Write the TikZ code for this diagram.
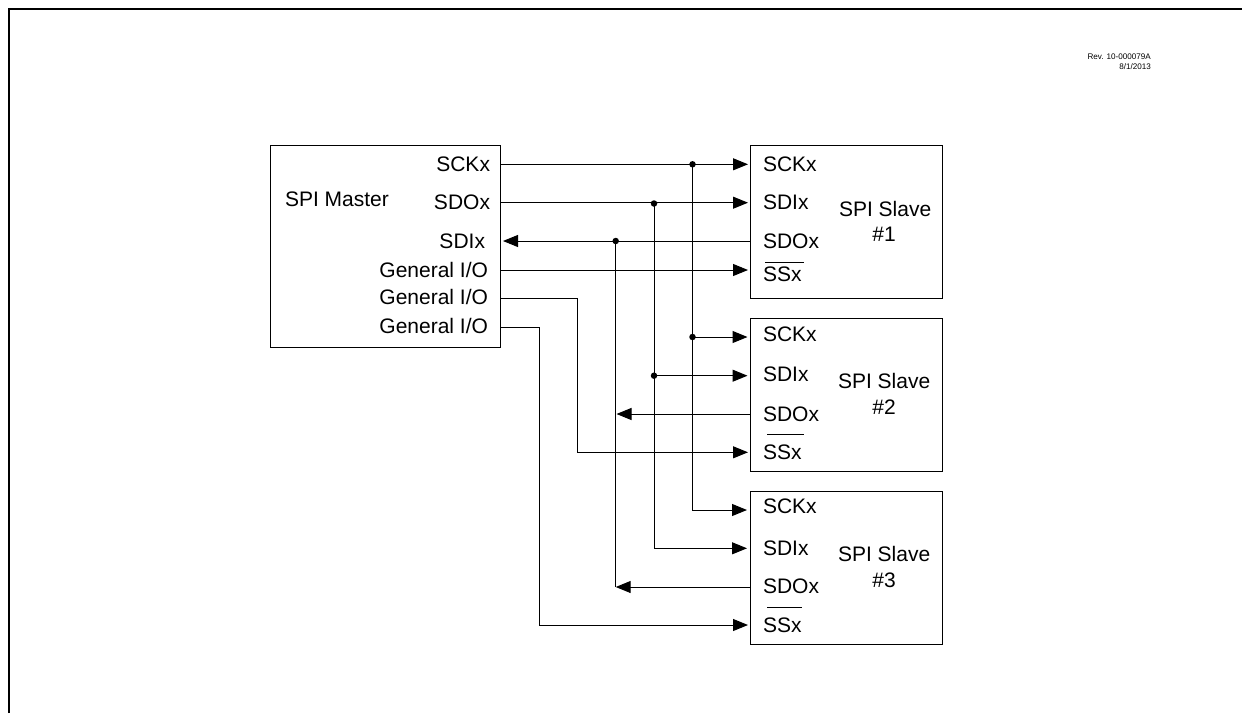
\documentclass[tikz,border=0pt]{standalone}
\usepackage{fontspec}
\setmainfont{Liberation Sans}
\usetikzlibrary{arrows.meta}
\tikzset{
  x=1pt,y=-1pt,
  blockbox/.style={draw=black,line width=1pt,inner sep=0pt,outer sep=0pt,rectangle,anchor=north west},
  lbl/.style={font=\fontsize{21}{21}\selectfont,inner sep=0pt,outer sep=0pt,text=black},
  lblw/.style={lbl,anchor=base west},
  lble/.style={lbl,anchor=base east},
  lblc/.style={lbl,anchor=base},
  rev/.style={font=\fontsize{8.1}{8.1}\selectfont,inner sep=0pt,anchor=base east,text=black},
  wire/.style={draw=black,line width=1pt},
  sig/.style={wire,-{Triangle[length=15pt,width=12pt]}},
  dotj/.style={circle,fill=black,inner sep=0pt,minimum size=6.5pt},
  ovr/.style={draw=black,line width=1pt},
}
\begin{document}
\begin{tikzpicture}
\useasboundingbox (0,0) rectangle (1242,713);
% outer frame
\coordinate (fbl) at (9,713); \coordinate (ftl) at (9,9); \coordinate (ftr) at (1242,9);
\draw[black,line width=2.2pt,line join=miter] (fbl) -- (ftl) -- (ftr);
\node[rev] (rev1) at (1151,59.5) {Rev. 10-000079A};
\node[rev] (rev2) at (1151,69) {8/1/2013};
% blocks
\node[blockbox,minimum width=230pt,minimum height=202pt] (master) at (270,145) {};
\node[blockbox,minimum width=192pt,minimum height=153pt] (s1) at (750,145) {};
\node[blockbox,minimum width=192pt,minimum height=153pt] (s2) at (750,318) {};
\node[blockbox,minimum width=192pt,minimum height=153pt] (s3) at (750,491) {};
% master labels
\node[lblw] (mname) at (285,206) {SPI Master};
\node[lble] (msck) at (490,171) {SCKx};
\node[lble] (msdo) at (490,209) {SDOx};
\node[lble] (msdi) at (485,248) {SDIx};
\node[lble] (mg1) at (488,277) {General I/O};
\node[lble] (mg2) at (488,304.5) {General I/O};
\node[lble] (mg3) at (488,333) {General I/O};
% slave 1
\node[lblw] (a1) at (763,171) {SCKx};
\node[lblw] (b1) at (763,209) {SDIx};
\node[lblw] (c1) at (763,248) {SDOx};
\node[lblw] (d1) at (763,281) {SSx};
\node[lblw] (n1) at (839,216) {SPI Slave};
\node[lblc] (h1) at (884,241) {\#1};
\coordinate (oa1) at (765,262.5); \coordinate (ob1) at (804,262.5);
\draw[ovr] (oa1) -- (ob1);
% slave 2
\node[lblw] (a2) at (763,341.5) {SCKx};
\node[lblw] (b2) at (763,381.7) {SDIx};
\node[lblw] (c2) at (763,421) {SDOx};
\node[lblw] (d2) at (763,459.3) {SSx};
\node[lblw] (n2) at (838,388) {SPI Slave};
\node[lblc] (h2) at (884,414) {\#2};
\coordinate (oa2) at (767,434.7); \coordinate (ob2) at (804,434.7);
\draw[ovr] (oa2) -- (ob2);
% slave 3
\node[lblw] (a3) at (763,513.5) {SCKx};
\node[lblw] (b3) at (763,555) {SDIx};
\node[lblw] (c3) at (763,593) {SDOx};
\node[lblw] (d3) at (763,632) {SSx};
\node[lblw] (n3) at (838,561) {SPI Slave};
\node[lblc] (h3) at (884,587) {\#3};
\coordinate (oa3) at (767,607.7); \coordinate (ob3) at (802,607.7);
\draw[ovr] (oa3) -- (ob3);
% ports
\coordinate (pm1) at (500,164.3); \coordinate (pm2) at (500,202.7);
\coordinate (pm3) at (503,241); \coordinate (pm4) at (500,270);
\coordinate (pm5) at (500,298.7); \coordinate (pm6) at (500,327.5);
\coordinate (p1a) at (748,164.3); \coordinate (p1b) at (748,202.7);
\coordinate (p1c) at (750,241); \coordinate (p1d) at (748,270);
\coordinate (p2a) at (747.5,337); \coordinate (p2b) at (747.5,375.7);
\coordinate (p2c) at (750,414); \coordinate (p2d) at (748,452.3);
\coordinate (p3a) at (747,510); \coordinate (p3b) at (747,548.3);
\coordinate (p3c) at (750,587); \coordinate (p3d) at (748,625);
% junctions
\node[dotj] (j1) at (692.5,164.3) {};
\node[dotj] (j2) at (654,203.5) {};
\node[dotj] (j3) at (615.7,241) {};
\node[dotj] (j4) at (692.5,337) {};
\node[dotj] (j5) at (654,375.7) {};
\coordinate (t2) at (616.5,414);
\coordinate (t3) at (615.7,587);
\coordinate (k3) at (692.5,510); \coordinate (k4) at (654,548.3);
\coordinate (g2) at (577.3,298.7); \coordinate (g2b) at (577.3,452.3);
\coordinate (g3) at (539,327.5); \coordinate (g3b) at (539,625);
% connectors
\draw[sig] (pm1) -- (p1a);
\draw[sig] (pm2) -- (p1b);
\draw[sig] (p1c) -- (pm3);
\draw[sig] (pm4) -- (p1d);
\draw[sig] (pm5) -- (g2) -- (g2b) -- (p2d);
\draw[sig] (pm6) -- (g3) -- (g3b) -- (p3d);
\draw[wire] (j1.center) -- (j4.center);
\draw[sig] (j4.center) -- (p2a);
\draw[sig] (j4.center) -- (k3) -- (p3a);
\draw[wire] (j2.center) -- (j5.center);
\draw[sig] (j5.center) -- (p2b);
\draw[sig] (j5.center) -- (k4) -- (p3b);
\draw[sig] (p2c) -- (t2);
\draw[sig] (p3c) -- (t3);
\draw[wire] (j3.center) -- (t3);
\end{tikzpicture}
\end{document}
